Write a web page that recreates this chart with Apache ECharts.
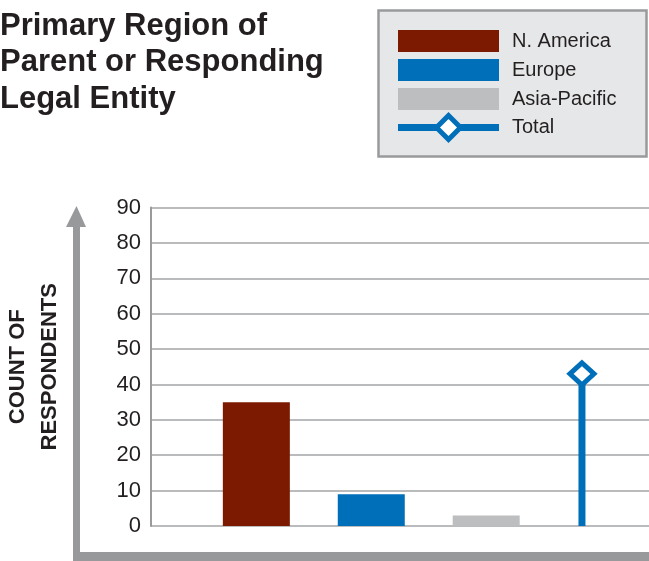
<!DOCTYPE html>
<html><head><meta charset="utf-8">
<script src="https://cdn.jsdelivr.net/npm/echarts@6/dist/echarts.min.js"></script>
<style>html,body{margin:0;padding:0;background:#fff}#c{width:649px;height:561px}</style>
</head><body><div id="c"></div>
<script>
// ---- data ----
const titleLines = ['Primary Region of', 'Parent or Responding', 'Legal Entity'];
const axisTitleLines = ['COUNT OF', 'RESPONDENTS'];
const categories = ['N. America', 'Europe', 'Asia-Pacific', 'Total'];
const counts = [35, 9, 3, 43];
const yMin = 0, yMax = 90, yStep = 10;

// ---- layout / style ----
const FONT = 'Liberation Sans';
const TXT = '#231f20';
const barColors = ['#7b1a00', '#006fb9', '#bdbec0'];
const totalColor = '#006fb9';
const slotCount = 26;
const slot = [5.5, 11.5, 17.5, 22.5];

const chart = echarts.init(document.getElementById('c'), null, {renderer: 'canvas'});

const barSeries = categories.slice(0, 3).map((name, i) => ({
  type: 'bar', name,
  data: [[slot[i], counts[i]]],
  barWidth: 67, barGap: '-100%',
  itemStyle: {color: barColors[i]},
  silent: true
}));

const totalSeries = {
  type: 'line', name: categories[3],
  data: [{value: [slot[3], yMin], symbol: 'none'}, {value: [slot[3], counts[3]]}],
  lineStyle: {width: 7, color: totalColor, cap: 'butt'},
  symbol: 'diamond', symbolSize: [24, 22],
  itemStyle: {color: '#fff', borderColor: totalColor, borderWidth: 5},
  z: 5, silent: true
};

const legendText = {fontSize: 20, color: TXT, fontFamily: FONT, padding: [0, 0, 0, 8]};

chart.setOption({
  animation: false,
  backgroundColor: '#fff',
  title: {
    text: titleLines.join('\n'),
    left: 0, top: 8, padding: 0,
    textStyle: {fontFamily: FONT, fontSize: 31, fontWeight: 'bold', color: TXT, lineHeight: 36.5}
  },
  graphic: [
    {type: 'rect', z: -1, shape: {x: 378.5, y: 10.5, width: 268, height: 146},
     style: {fill: '#e6e7e8', stroke: '#999a9c', lineWidth: 2.5}},
    {type: 'rect', shape: {x: 73, y: 226, width: 7, height: 335}, style: {fill: '#98999b'}},
    {type: 'rect', shape: {x: 73, y: 552, width: 576, height: 9}, style: {fill: '#98999b'}},
    {type: 'polygon', shape: {points: [[66, 227], [86, 227], [76.5, 206]]}, style: {fill: '#98999b'}}
  ],
  legend: [
    {
      data: categories.slice(0, 3), orient: 'vertical', left: 398, top: 30,
      itemWidth: 101, itemHeight: 22, itemGap: 7, padding: 0, icon: 'rect',
      selectedMode: false, textStyle: legendText
    },
    {
      data: categories.slice(3), orient: 'vertical', left: 394.5, top: 113,
      itemWidth: 101, itemHeight: 30, padding: 0,
      selectedMode: false, textStyle: legendText,
      lineStyle: {width: 7, color: totalColor},
      itemStyle: {color: '#fff', borderColor: totalColor, borderWidth: 5}
    }
  ],
  grid: {left: 151, right: 0, top: 207.5, bottom: 35, containLabel: false, outerBoundsMode: 'none'},
  xAxis: {type: 'value', min: 0, max: slotCount, show: false},
  yAxis: {
    type: 'value', min: yMin, max: yMax, interval: yStep,
    name: axisTitleLines.join('\n'), nameLocation: 'middle', nameRotate: 90, nameGap: 85,
    nameTextStyle: {fontFamily: FONT, fontSize: 22, fontWeight: 'bold', color: TXT, lineHeight: 32, align: 'center'},
    axisLine: {show: true, lineStyle: {color: '#999a9c', width: 2}},
    axisTick: {show: false},
    axisLabel: {fontFamily: FONT, fontSize: 22, color: TXT, margin: 10},
    splitLine: {show: true, lineStyle: {color: '#a3a4a6', width: 1.5}}
  },
  series: [...barSeries, totalSeries]
});
</script></body></html>
